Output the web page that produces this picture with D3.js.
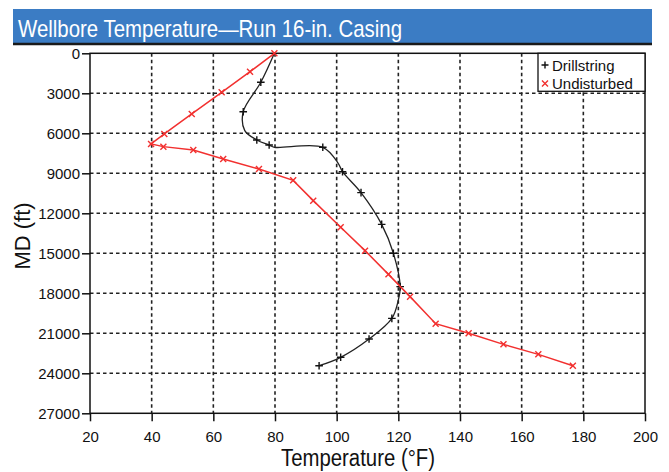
<!DOCTYPE html>
<html>
<head>
<meta charset="utf-8">
<script src="https://cdn.jsdelivr.net/npm/d3@7"></script>
<style>
  body { margin: 0; background: #fff; }
  svg { display: block; }
</style>
</head>
<body>
<svg width="669" height="472"></svg>
<script>
const titleText = 'Wellbore Temperature\u2014Run 16-in. Casing';
const xLabel = 'Temperature (\u00B0F)';
const yLabel = 'MD (ft)';

const xTicks = [20, 40, 60, 80, 100, 120, 140, 160, 180, 200];
const yTicks = [0, 3000, 6000, 9000, 12000, 15000, 18000, 21000, 24000, 27000];

// Drillstring (black +); 1 = marker drawn at that point
const drillTemp = [79.8, 75.4, 69.7, 70.2, 74.1, 78.1, 79.8, 95.5, 100.5, 101.9, 107.9, 114.6, 118.4, 120.6, 120.0, 117.9, 110.5, 101.3, 94.3];
const drillDepth = [0, 2175, 4380, 5800, 6500, 6880, 7050, 7050, 8250, 8880, 10450, 12830, 15000, 17500, 18500, 19880, 21430, 22800, 23430];
const drillMarked = [0, 1, 1, 0, 1, 1, 0, 1, 0, 1, 1, 1, 1, 1, 0, 1, 1, 1, 1];

// Undisturbed (red x)
const undTemp = [79.8, 71.9, 62.7, 53.0, 44.1, 39.8, 43.8, 53.5, 63.2, 74.8, 85.9, 92.4, 101.3, 109.2, 116.8, 123.8, 132.1, 142.8, 154.1, 165.4, 176.6];
const undDepth = [0, 1380, 2925, 4550, 6050, 6800, 7000, 7250, 7930, 8680, 9530, 11050, 13050, 14800, 16580, 18250, 20280, 21000, 21830, 22580, 23430];

const legendNames = ['Drillstring', 'Undisturbed'];

const svg = d3.select('svg');
const sans = "'Liberation Sans', Arial, sans-serif";
const red = '#f2302f';

// title bar
svg.append('rect')
  .attr('x', 13).attr('y', 9).attr('width', 639).attr('height', 34)
  .attr('fill', '#3b7cc4');
svg.append('line')
  .attr('x1', 13).attr('x2', 652).attr('y1', 44).attr('y2', 44)
  .attr('stroke', '#1a1a1a').attr('stroke-width', 2.5);
// the original uses a condensed face; squeeze Liberation Sans to the same width
svg.append('text')
  .attr('x', 18).attr('y', 37)
  .attr('fill', '#fff')
  .attr('textLength', 384).attr('lengthAdjust', 'spacingAndGlyphs')
  .style('font-family', sans).style('font-size', '24px')
  .text(titleText);

const plotL = 90, plotR = 645, plotT = 53.3, plotB = 413.3;

const x = d3.scaleLinear().domain([20, 200]).range([plotL, plotR]);
const y = d3.scaleLinear().domain([0, 27000]).range([plotT, plotB]);

// grid
const grid = svg.append('g')
  .attr('stroke', '#222').attr('stroke-width', 1.6).attr('stroke-dasharray', '3.5,3');
grid.selectAll('.gx').data(xTicks.slice(1, -1)).enter().append('line')
  .attr('x1', (d) => x(d)).attr('x2', (d) => x(d))
  .attr('y1', plotT).attr('y2', plotB);
grid.selectAll('.gy').data(yTicks.slice(1, -1)).enter().append('line')
  .attr('x1', plotL).attr('x2', plotR)
  .attr('y1', (d) => y(d)).attr('y2', (d) => y(d));

// axes
const xAxis = d3.axisBottom(x).tickValues(xTicks).tickSize(8).tickPadding(10).tickSizeOuter(0);
const yAxis = d3.axisLeft(y).tickValues(yTicks).tickSize(8).tickPadding(2).tickSizeOuter(0)
  .tickFormat(d3.format('d'));

const gx = svg.append('g').attr('transform', `translate(0,${plotB})`).call(xAxis);
const gy = svg.append('g').attr('transform', `translate(${plotL},0)`).call(yAxis);
[gx, gy].forEach((g) => {
  g.selectAll('.domain').remove();
  g.selectAll('.tick line').attr('stroke', '#111').attr('stroke-width', 1.5);
  g.selectAll('.tick text').attr('fill', '#111')
    .style('font-family', sans).style('font-size', '15px');
});

// frame
svg.append('rect')
  .attr('x', plotL).attr('y', plotT)
  .attr('width', plotR - plotL).attr('height', plotB - plotT)
  .attr('fill', 'none').attr('stroke', '#111').attr('stroke-width', 1.5);

// axis titles
svg.append('text')
  .attr('x', 358).attr('y', 466)
  .attr('text-anchor', 'middle').attr('fill', '#111')
  .attr('textLength', 154).attr('lengthAdjust', 'spacingAndGlyphs')
  .style('font-family', sans).style('font-size', '23px')
  .text(xLabel);
svg.append('text')
  .attr('transform', 'translate(30,236) rotate(-90)')
  .attr('text-anchor', 'middle').attr('fill', '#111')
  .style('font-family', sans).style('font-size', '22px')
  .text(yLabel);

// series
const drill = drillTemp.map((t, i) => ({ t, d: drillDepth[i], m: drillMarked[i] }));
const und = undTemp.map((t, i) => ({ t, d: undDepth[i] }));

const plot = svg.append('g');

const drillLine = d3.line().x((p) => x(p.t)).y((p) => y(p.d)).curve(d3.curveCatmullRom.alpha(0.5));
const undLine = d3.line().x((p) => x(p.t)).y((p) => y(p.d));

const plus = (s) => `M${-s},0H${s}M0,${-s}V${s}`;
const cross = (s) => `M${-s},${-s}L${s},${s}M${-s},${s}L${s},${-s}`;

plot.append('path').datum(drill)
  .attr('d', drillLine)
  .attr('fill', 'none').attr('stroke', '#222').attr('stroke-width', 1.3);
plot.selectAll('.pm').data(drill.filter((p) => p.m)).enter().append('path')
  .attr('transform', (p) => `translate(${x(p.t)},${y(p.d)})`)
  .attr('d', plus(3.8))
  .attr('stroke', '#111').attr('stroke-width', 1.4);

plot.append('path').datum(und)
  .attr('d', undLine)
  .attr('fill', 'none').attr('stroke', red).attr('stroke-width', 1.5);
plot.selectAll('.xm').data(und).enter().append('path')
  .attr('transform', (p) => `translate(${x(p.t)},${y(p.d)})`)
  .attr('d', cross(3))
  .attr('stroke', red).attr('stroke-width', 1.4);

// legend
const lg = svg.append('g');
lg.append('rect')
  .attr('x', 538).attr('y', plotT).attr('width', plotR - 538).attr('height', 38)
  .attr('fill', '#fff').attr('stroke', '#111').attr('stroke-width', 1.3);
legendNames.forEach((name, i) => {
  const cy = 65 + i * 18.5;
  lg.append('path')
    .attr('transform', `translate(545,${cy})`)
    .attr('d', i === 0 ? plus(3.5) : cross(3))
    .attr('stroke', i === 0 ? '#111' : red).attr('stroke-width', 1.4);
  lg.append('text')
    .attr('x', 552).attr('y', cy + 5.5)
    .attr('fill', '#111')
    .style('font-family', sans).style('font-size', '15px')
    .text(name);
});
</script>
</body>
</html>
